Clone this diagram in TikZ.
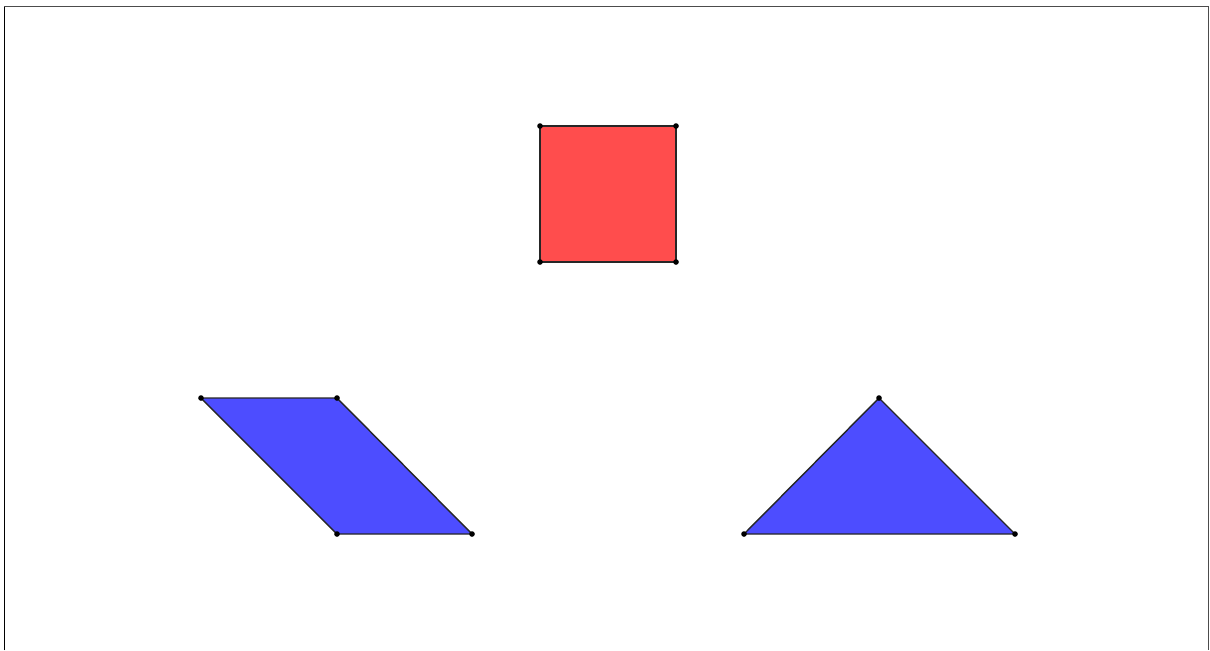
\documentclass[tikz,border=0pt]{standalone}
\usetikzlibrary{positioning}

\begin{document}
\begin{tikzpicture}[
  x=0.02cm, y=-0.02cm,
  edge/.style={draw=black!85, line width=0.8pt, line join=round},
  redface/.style={edge, fill={rgb,255:red,255;green,77;blue,77}},
  blueface/.style={edge, fill={rgb,255:red,77;green,77;blue,255}},
  vertex/.style={circle, fill=black, inner sep=0pt, minimum size=3.2pt}
]
\useasboundingbox (0,0) rectangle (1210,650);

% frame
\draw[black!70, line width=0.9pt] (4.5,650) -- (4.5,6.5) -- (1208.5,6.5) -- (1208.5,650);
\draw[black, line width=1.1pt] (4.5,650) -- (4.5,7);

% square
\coordinate (sqA) at (540,126);
\coordinate (sqB) at (676,126);
\coordinate (sqC) at (676,262);
\coordinate (sqD) at (540,262);
\draw[redface] (sqA) -- (sqB) -- (sqC) -- (sqD) -- cycle;

% parallelogram
\coordinate (paA) at (201,398);
\coordinate (paB) at (337,398);
\coordinate (paC) at (472,534);
\coordinate (paD) at (337,534);
\draw[blueface] (paA) -- (paB) -- (paC) -- (paD) -- cycle;

% triangle
\coordinate (trA) at (744,534);
\coordinate (trB) at (879,398);
\coordinate (trC) at (1015,534);
\draw[blueface] (trA) -- (trB) -- (trC) -- cycle;

% vertices
\foreach \p in {sqA,sqB,sqC,sqD,paA,paB,paC,paD,trA,trB,trC}
  \node[vertex] at (\p) {};
\end{tikzpicture}
\end{document}
